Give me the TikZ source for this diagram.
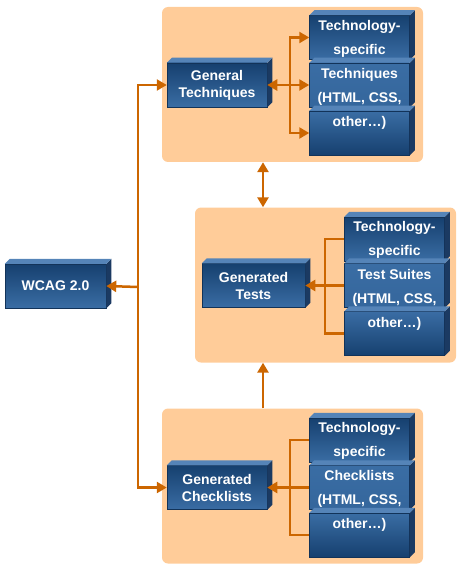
\documentclass[tikz,border=0pt]{standalone}
\usepackage{fontspec}
\setmainfont{Liberation Sans}
\usetikzlibrary{arrows.meta,calc}

\definecolor{panelc}{HTML}{FFCC99}
\definecolor{arrowc}{HTML}{CC6600}
\definecolor{blkdark}{HTML}{16406F}
\definecolor{blklight}{HTML}{3A6DA4}
\definecolor{blkside}{HTML}{1B3A62}
\definecolor{blktop}{HTML}{5584B8}

% depth faces of a block
\newcommand{\depthfaces}[1]{%
	\fill[blkside] (#1.north east) -- ++(5,-5) -- ([shift={(5,-5)}]#1.south east) -- (#1.south east) -- cycle;
	\fill[blktop] (#1.north west) -- ++(5,-5) -- ([shift={(5,-5)}]#1.north east) -- (#1.north east) -- cycle;}

\begin{document}
\begin{tikzpicture}[x=1pt,y=-1pt,
	font=\fontsize{14}{17}\selectfont\bfseries,
	panel/.style={fill=panelc, rounded corners=6pt, minimum width=261pt, minimum height=155pt, inner sep=0},
	blk/.style={top color=blkdark, bottom color=blklight, draw=blkdark!80!black, line width=0.5pt,
		minimum width=100pt, minimum height=44pt, inner sep=0, text=white, align=center},
	blkmid/.style={blk, top color=blklight, bottom color=blklight!85!blkdark},
	blklow/.style={blk, top color=blklight, bottom color=blkdark},
	stacktxt/.style={text=white, align=center, font=\fontsize{14}{24}\selectfont\bfseries},
	arr/.style={draw=arrowc, line width=2.5pt, -{Triangle[length=10pt,width=11pt]}},
	arrs/.style={draw=arrowc, line width=2.5pt, {Triangle[length=10pt,width=11pt]}-{Triangle[length=10pt,width=11pt]}},
	con/.style={draw=arrowc, line width=2.5pt}]
\useasboundingbox (0,0) rectangle (463,572);

%----------------------------
% Panels
%----------------------------
\node[panel] (p1) at (292.5,84.5) {};
\node[panel] (p2) at (325.5,285) {};
\node[panel] (p3) at (292.5,486) {};

%----------------------------
% Top panel: techniques
%----------------------------
\node[blk] (gt) at (217,85) {General\\Techniques};
\depthfaces{gt}
\node[blk] (ta) at (359.5,37.5) {};
\depthfaces{ta}
\node[blkmid] (tb) at (359.5,85) {};
\depthfaces{tb}
\node[blklow] (tc) at (359.5,133) {};
\depthfaces{tc}
\node[stacktxt] (ttxt) at (359.5,75) {Technology-\\specific\\Techniques\\(HTML, CSS,\\other…)};

% arrows into the stack
\coordinate (tj) at (290,85);
\draw[arrs] (gt.east) -- (tb.west);
\draw[arr] (tj) |- (ta.west);
\draw[arr] (tj) |- (tc.west);

%----------------------------
% Middle panel: tests
%----------------------------
\node[blk, minimum width=103pt] (gts) at (253.5,285.5) {Generated\\Tests};
\depthfaces{gts}
\node[blk] (sa) at (394.5,239) {};
\depthfaces{sa}
\node[blkmid] (sb) at (394.5,285.5) {};
\depthfaces{sb}
\node[blklow] (sc) at (394.5,333.5) {};
\depthfaces{sc}
\node[stacktxt] (stxt) at (394.5,275.5) {Technology-\\specific\\Test Suites\\(HTML, CSS,\\other…)};

\coordinate (sj) at (325,285.5);
\draw[con] (sa.west) -| (sj) |- (sc.west);
\draw[con] (sb.west) -- (sj);
\draw[arr] (sj) -- (gts.east);

%----------------------------
% Bottom panel: checklists
%----------------------------
\node[blk] (gc) at (217,487.5) {Generated\\Checklists};
\depthfaces{gc}
\node[blk] (ca) at (359.5,440) {};
\depthfaces{ca}
\node[blkmid] (cb) at (359.5,487.5) {};
\depthfaces{cb}
\node[blklow] (cc) at (359.5,535) {};
\depthfaces{cc}
\node[stacktxt] (ctxt) at (359.5,476.5) {Technology-\\specific\\Checklists\\(HTML, CSS,\\other…)};

\coordinate (cj) at (290,487.5);
\draw[con] (ca.west) -| (cj) |- (cc.west);
\draw[con] (cb.west) -- (cj);
\draw[arr] (cj) -- (gc.east);

%----------------------------
% WCAG and links
%----------------------------
\node[blk, minimum width=101pt] (wcag) at (55.5,286) {WCAG 2.0};
\depthfaces{wcag}

\coordinate (hub) at (138,287);
\draw[arr] (hub) -- (wcag.east);
\draw[arr] (hub) |- (gt.west);
\draw[arr] (hub) |- (gc.west);

% between the panels
\draw[arrs] ([xshift=-29.5pt]p1.south) -- ([xshift=-29.5pt]p1.south |- p2.north);
\draw[arr] ([xshift=-29.5pt]p3.north) -- ([xshift=-29.5pt]p3.north |- p2.south);

\end{tikzpicture}
\end{document}
